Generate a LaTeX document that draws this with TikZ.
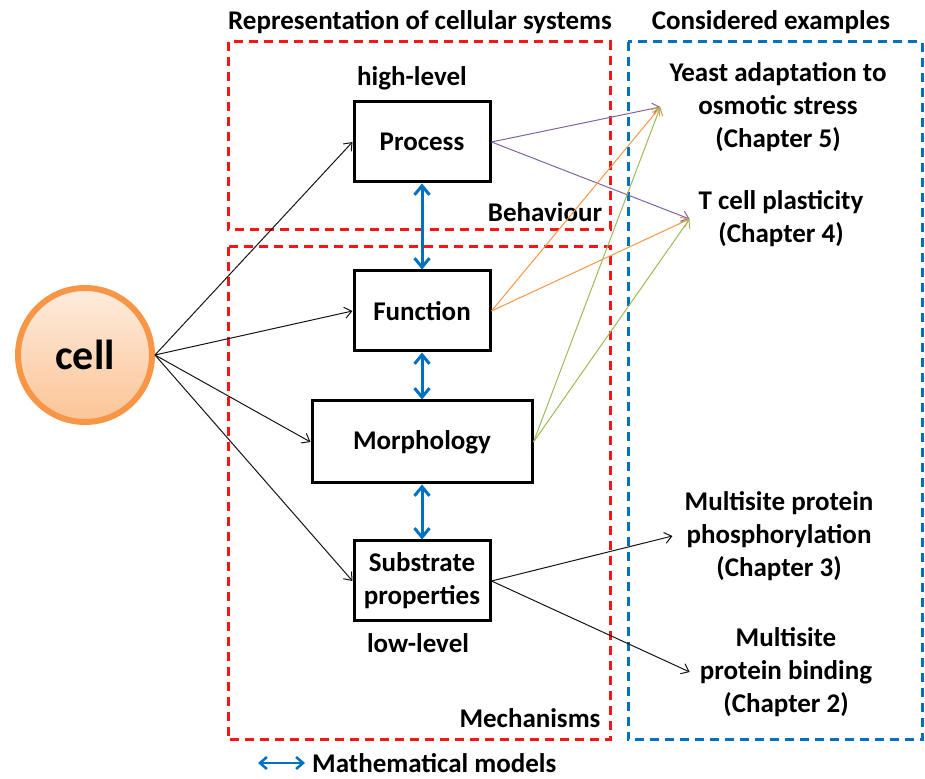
\documentclass[tikz,border=0pt]{standalone}
\usepackage{fontspec}
\setmainfont{Carlito}
\usepackage{tikz}
\usetikzlibrary{arrows.meta, calc, positioning}
\usepackage{xcolor}
\definecolor{DashRed}{RGB}{250, 20, 20}
\definecolor{ModelBlue}{RGB}{0, 112, 192}
\definecolor{CellOrange}{RGB}{247, 150, 70}
\definecolor{CellTop}{RGB}{253, 236, 222}
\definecolor{CellBottom}{RGB}{251, 196, 150}
\definecolor{LinkPurple}{RGB}{128, 100, 162}
\definecolor{LinkOrange}{RGB}{247, 150, 70}
\definecolor{LinkGreen}{RGB}{155, 187, 89}
\definecolor{RichBlack}{RGB}{20, 20, 20}
\tikzset{%
  level_block/.style={%
    rectangle,%
    draw=black,%
    line width=3pt,%
    minimum width=136pt,%
    minimum height=80pt,%
    font={\fontsize{27pt}{33pt}\selectfont\bfseries},%
    align=center%
  },
  cell_circle/.style={%
    circle,%
    draw=CellOrange,%
    line width=6pt,%
    top color=CellTop,%
    bottom color=CellBottom,%
    minimum size=134pt,%
    font={\fontsize{42pt}{48pt}\selectfont\bfseries},%
  },
  annotate/.style={%
    font={\fontsize{27pt}{33pt}\selectfont\bfseries},%
    align=center,%
    inner xsep=9pt,%
  },
  area_box/.style={%
    line width=3pt,%
    dash pattern=on 9pt off 6pt,%
  },
  link_path/.style={%
    line width=1pt,%
    -{Straight Barb[length=7pt, width=11pt]},%
  },
  model_arrow/.style={%
    color=ModelBlue,%
    line width=3pt,%
    {Straight Barb[length=9pt, width=15pt]}-{Straight Barb[length=9pt, width=15pt]},%
  },
}

\begin{document}
\begin{tikzpicture}[x=1pt, y=1pt]

    \useasboundingbox (0, 0) rectangle (925, 778);

    \draw [area_box, DashRed] (228, 736) rectangle (610, 548);
    \draw [area_box, DashRed] (228, 531) rectangle (610, 38);
    \draw [area_box, ModelBlue] (628, 736) rectangle (922, 38);

    \node [annotate] (title_left) at (420, 756) {Representation of cellular systems};
    \node [annotate] (title_right) at (771, 756) {Considered examples};

    \node [level_block] (Process) at (422, 636) {Process};
    \node [level_block, below = 86 of Process] (Function) {Function};
    \node [level_block, minimum width=220pt, minimum height=82pt,
      below = 47 of Function] (Morphology) {Morphology};
    \node [level_block, below = 55 of Morphology] (Substrate) {Substrate\\properties};

    \node [cell_circle] (cell) at (85, 423) {cell};

    \node [annotate] (high) at (412, 700) {high-level};
    \node [annotate] (low) at (418, 135) {low-level};
    \node [annotate] (behaviour) at (545, 566) {Behaviour};
    \node [annotate] (mechanisms) at (530, 60) {Mechanisms};

    \node [annotate] (Yeast) at (778, 671)
      {Yeast adaptation to\\osmotic stress\\(Chapter 5)};
    \node [annotate] (Tcell) at (781, 559)
      {T cell plasticity\\(Chapter 4)};
    \node [annotate, inner xsep=12pt] (Phospho) at (779, 242)
      {Multisite protein\\phosphorylation\\(Chapter 3)};
    \node [annotate, inner xsep=10pt] (Binding) at (786, 106)
      {Multisite\\protein binding\\(Chapter 2)};

    \draw [model_arrow] (Process.south) -- (Function.north);
    \draw [model_arrow] (Function.south) -- (Morphology.north);
    \draw [model_arrow] (Morphology.south) -- (Substrate.north);

    \draw [link_path, RichBlack] (cell.east) -- (Process.west);
    \draw [link_path, RichBlack] (cell.east) -- (Function.west);
    \draw [link_path, RichBlack] (cell.east) -- (Morphology.west);
    \draw [link_path, RichBlack] (cell.east) -- (Substrate.west);

    \draw [link_path, LinkPurple] (Process.east) -- (Yeast.west);
    \draw [link_path, LinkPurple] (Process.east) -- (Tcell.west);
    \draw [link_path, LinkOrange] (Function.east) -- (Yeast.west);
    \draw [link_path, LinkOrange] (Function.east) -- (Tcell.west);
    \draw [link_path, LinkGreen] (Morphology.east) -- (Yeast.west);
    \draw [link_path, LinkGreen] (Morphology.east) -- (Tcell.west);
    \draw [link_path, RichBlack] (Substrate.east) -- (Phospho.west);
    \draw [link_path, RichBlack] (Substrate.east) -- (Binding.west);

    \coordinate (legend_start) at (258, 15);
    \coordinate (legend_end) at (305, 15);
    \draw [model_arrow, line width=2.5pt,
      {Straight Barb[length=7pt, width=12pt]}-{Straight Barb[length=7pt, width=12pt]}]
      (legend_start)
      --
      (legend_end);
    \node [annotate, inner xsep=3pt, inner ysep=1pt, right = 4 of legend_end] (legend) {Mathematical models};
  \end{tikzpicture}
\end{document}
